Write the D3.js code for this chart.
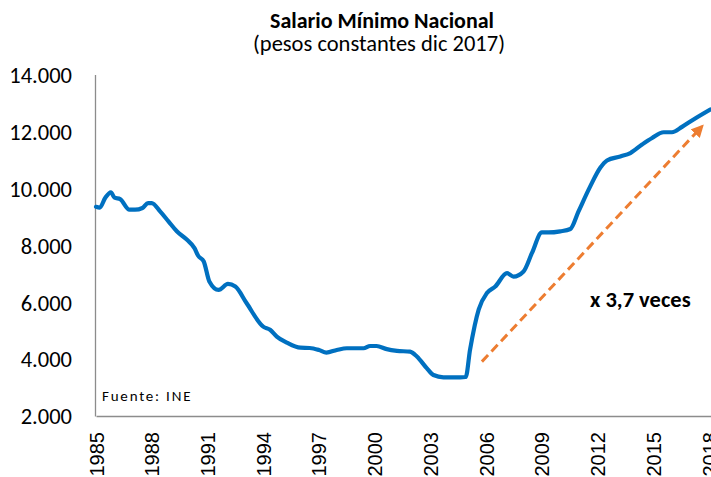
<!DOCTYPE html>
<html>
<head>
<meta charset="utf-8">
<script src="https://cdn.jsdelivr.net/npm/d3@7"></script>
<style>
  html, body { margin: 0; padding: 0; background: #fff; }
  svg { display: block; }
</style>
</head>
<body>
<svg id="chart" width="711" height="477"></svg>
<script>
// ---- data ----
const titleText = "Salario Mínimo Nacional";
const subtitleText = "(pesos constantes dic 2017)";
const sourceText = "Fuente: INE";
const annotationText = "x 3,7 veces";

const years = [1985.0, 1985.2, 1985.5, 1985.8, 1986.0, 1986.3, 1986.8, 1987.1, 1987.5, 1987.8,
  1988.0, 1988.45, 1988.9, 1989.35, 1989.9, 1990.3, 1990.5, 1990.8, 1991.1, 1991.6,
  1992.1, 1992.5, 1993.1, 1994.0, 1994.37, 1994.73, 1995.27, 1996.0, 1996.5, 1997.0,
  1997.4, 1997.96, 1998.5, 1999.4, 1999.75, 2000.1, 2000.65, 2001.2, 2001.9, 2002.27,
  2002.8, 2003.16, 2003.7, 2004.6, 2004.9, 2005.13, 2005.6, 2006.04, 2006.49, 2007.12,
  2007.47, 2008.01, 2008.46, 2009.0, 2009.36, 2009.99, 2010.53, 2010.97, 2011.6, 2012.14,
  2012.5, 2013.22, 2013.76, 2014.39, 2014.93, 2015.55, 2016.0, 2016.54, 2017.16, 2018.06];
const values = [9350, 9320, 9670, 9860, 9670, 9620, 9250, 9250, 9310, 9480,
  9480, 9190, 8840, 8490, 8190, 7900, 7630, 7430, 6730, 6430,
  6640, 6550, 5970, 5140, 5030, 4790, 4580, 4400, 4390, 4320,
  4230, 4320, 4380, 4380, 4460, 4460, 4350, 4290, 4260, 4090,
  3680, 3440, 3360, 3360, 3370, 4320, 5750, 6320, 6550, 7020,
  6900, 7080, 7720, 8450, 8450, 8490, 8570, 9190, 10070, 10720,
  10980, 11120, 11240, 11540, 11770, 11970, 11970, 12160, 12420, 12770];

const xTicks = [1985, 1988, 1991, 1994, 1997, 2000, 2003, 2006, 2009, 2012, 2015, 2018];
const yTicks = [2000, 4000, 6000, 8000, 10000, 12000, 14000];
const xDomain = [1985, 2018.1];
const yDomain = [2000, 14000];

// trend arrow endpoints (year, value)
const arrowYears = [2005.77, 2017.62];
const arrowValues = [3910, 12180];

// ---- layout ----
const svg = d3.select("#chart");
const plotLeft = 95, plotRight = 711, plotTop = 74.5, plotBottom = 416;

const x = d3.scaleLinear().domain(xDomain).range([plotLeft + 1, plotRight]);
const y = d3.scaleLinear().domain(yDomain).range([plotBottom, plotTop]);

const calibri = "Carlito, Lato, 'Open Sans', sans-serif";
const fmt = v => d3.format(",")(v).replace(/,/g, ".");

// title
svg.append("text")
  .attr("x", 382).attr("y", 27.5)
  .attr("text-anchor", "middle")
  .style("font-family", calibri).style("font-weight", "bold").style("font-size", "22px")
  .attr("fill", "#000")
  .text(titleText);
svg.append("text")
  .attr("x", 379).attr("y", 50.5)
  .attr("text-anchor", "middle")
  .style("font-family", calibri).style("font-size", "22.5px")
  .attr("fill", "#000")
  .text(subtitleText);

// axes
const yAxis = d3.axisLeft(y).tickValues(yTicks).tickSize(0).tickPadding(23).tickFormat(fmt);
const gy = svg.append("g").attr("transform", `translate(${plotLeft},0)`).call(yAxis);
gy.select(".domain").attr("stroke", "#8c8c8c").attr("stroke-width", 1.3);
gy.selectAll("text")
  .style("font-family", calibri).style("font-size", "22.5px").attr("fill", "#000")
  .attr("dy", "0.35em");

const xAxis = d3.axisBottom(x).tickValues(xTicks).tickSize(0).tickFormat(d3.format("d"));
const gx = svg.append("g").attr("transform", `translate(0,${plotBottom})`).call(xAxis);
gx.select(".domain").attr("stroke", "#8c8c8c").attr("stroke-width", 1.6);
gx.selectAll("text")
  .style("font-family", "'Liberation Sans', Arial, sans-serif").style("font-size", "20px")
  .attr("fill", "#000")
  .attr("text-anchor", "end")
  .attr("transform", "translate(7,16) rotate(-90)")
  .attr("x", 0).attr("y", 0).attr("dy", 0);

// line
const line = d3.line().x((d, i) => x(years[i])).y(d => y(d)).curve(d3.curveMonotoneX);
svg.append("path")
  .datum(values)
  .attr("fill", "none")
  .attr("stroke", "#0070C0")
  .attr("stroke-width", 4.2)
  .attr("stroke-linejoin", "round")
  .attr("stroke-linecap", "round")
  .attr("d", line);

// arrow
const defs = svg.append("defs");
defs.append("marker")
  .attr("id", "ah").attr("viewBox", "0 0 10 10")
  .attr("refX", 8).attr("refY", 5)
  .attr("markerWidth", 4.2).attr("markerHeight", 4.2)
  .attr("orient", "auto")
  .append("path").attr("d", "M0,0 L10,5 L0,10 z").attr("fill", "#ED7D31");

svg.append("line")
  .attr("x1", x(arrowYears[0])).attr("y1", y(arrowValues[0]))
  .attr("x2", x(arrowYears[1])).attr("y2", y(arrowValues[1]))
  .attr("stroke", "#ED7D31").attr("stroke-width", 3)
  .attr("stroke-dasharray", "9,5")
  .attr("marker-end", "url(#ah)");

// annotation
svg.append("text")
  .attr("x", 590).attr("y", 307)
  .style("font-family", calibri).style("font-weight", "bold").style("font-size", "22.5px")
  .attr("fill", "#000")
  .text(annotationText);

// source
svg.append("text")
  .attr("x", 102).attr("y", 401)
  .style("font-family", calibri).style("font-size", "15px")
  .style("letter-spacing", "1.8px")
  .attr("fill", "#000")
  .text(sourceText);
</script>
</body>
</html>
